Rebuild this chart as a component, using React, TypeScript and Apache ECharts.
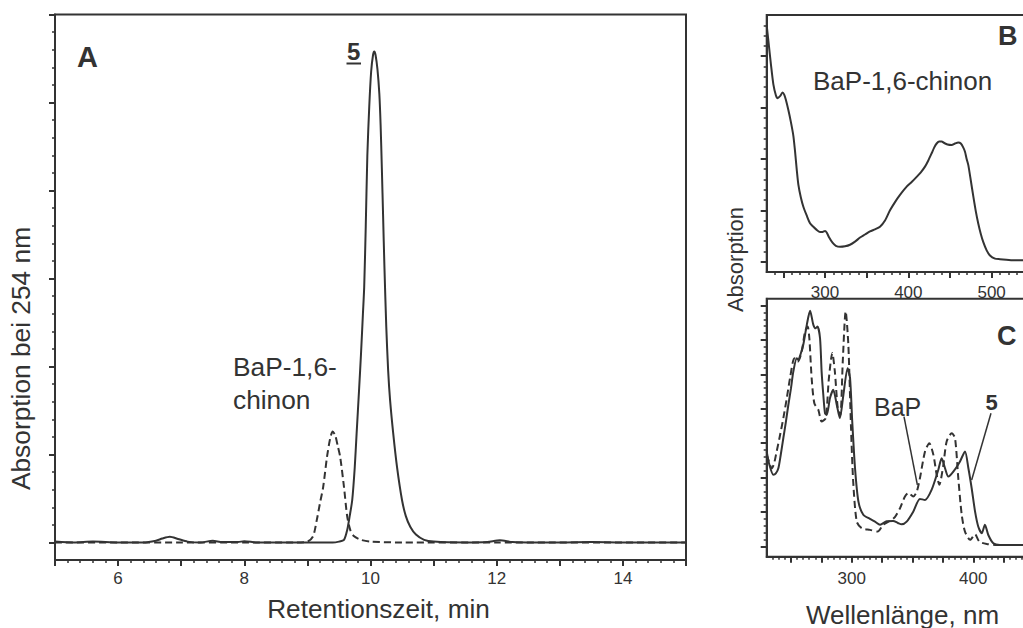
import React, { useEffect, useRef } from "react";
import * as echarts from "echarts";

// ---------- Panel A: HPLC chromatogram (retention time, min ; absorbance at 254 nm) ----------
const chromProduct5: [number, number][] = [
  [5.0, 0.01], [5.3, 0.0], [5.6, 0.01], [6.0, 0.0], [6.4, 0.0], [6.6, 0.02], [6.7, 0.045], [6.82, 0.065],
  [6.95, 0.04], [7.1, 0.01], [7.3, 0.0], [7.5, 0.02], [7.65, 0.005], [7.9, 0.005], [8.0, 0.015], [8.2, 0.0],
  [8.6, 0.0], [9.0, 0.0], [9.4, 0.0], [9.5, 0.01], [9.58, 0.03], [9.63, 0.14], [9.67, 0.3], [9.71, 0.48],
  [9.75, 0.85], [9.78, 1.24], [9.82, 1.75], [9.85, 2.15], [9.88, 2.6], [9.9, 2.9], [9.925, 3.6], [9.95, 4.4],
  [9.98, 4.95], [10.01, 5.35], [10.04, 5.54], [10.06, 5.58], [10.08, 5.54], [10.11, 5.38], [10.14, 5.1],
  [10.16, 4.75], [10.18, 4.25], [10.2, 3.7], [10.22, 3.15], [10.25, 2.45], [10.28, 1.95], [10.31, 1.62],
  [10.36, 1.24], [10.42, 0.86], [10.5, 0.48], [10.56, 0.3], [10.63, 0.18], [10.72, 0.09], [10.85, 0.03],
  [11.0, 0.01], [11.5, 0.0], [11.85, 0.005], [12.05, 0.025], [12.25, 0.005], [12.6, 0.0], [13.0, 0.0],
  [13.5, 0.005], [14.0, 0.0], [14.5, 0.0], [15.0, 0.0],
];
const chromChinon: [number, number][] = [
  [5.0, 0.0], [6.0, 0.0], [7.0, 0.0], [8.0, 0.0], [8.8, 0.0], [9.0, 0.01], [9.09, 0.07], [9.15, 0.26],
  [9.2, 0.45], [9.25, 0.63], [9.31, 0.97], [9.36, 1.18], [9.4, 1.26], [9.44, 1.22], [9.48, 1.1], [9.52, 0.97],
  [9.58, 0.63], [9.63, 0.3], [9.68, 0.14], [9.74, 0.07], [9.85, 0.03], [10.0, 0.01], [10.5, 0.0], [12.0, 0.0],
  [15.0, 0.0],
];
const aXMajorTicks = [5, 6, 7, 8, 9, 10, 11, 12, 13, 14, 15];
const aXLabels = [6, 8, 10, 12, 14];
const aYMajorTicks = [0, 1, 2, 3, 4, 5, 6];

// ---------- Panel B: UV spectrum of BaP-1,6-chinon (nm ; absorbance) ----------
const spectrumChinon: [number, number][] = [
  [230, 4.6], [232, 4.3], [235, 3.85], [238, 3.45], [241, 3.24], [243, 3.18], [246, 3.22], [249, 3.29],
  [251, 3.25], [253, 3.15], [256, 2.95], [259, 2.72], [262, 2.45], [264, 2.15], [266, 1.8], [268, 1.5],
  [271, 1.25], [274, 1.07], [278, 0.9], [282, 0.75], [286, 0.68], [290, 0.62], [294, 0.58], [297, 0.58],
  [300, 0.6], [302, 0.57], [305, 0.47], [309, 0.37], [313, 0.31], [318, 0.29], [324, 0.3], [330, 0.33],
  [336, 0.39], [342, 0.47], [348, 0.53], [354, 0.59], [360, 0.63], [366, 0.68], [372, 0.8], [378, 1.0],
  [384, 1.16], [390, 1.3], [398, 1.46], [404, 1.55], [410, 1.65], [415, 1.74], [420, 1.85], [424, 1.97],
  [428, 2.11], [431, 2.22], [434, 2.3], [437, 2.34], [440, 2.34], [443, 2.31], [447, 2.28], [452, 2.27],
  [456, 2.3], [460, 2.32], [463, 2.3], [466, 2.22], [468, 2.14], [470, 2.0], [472, 1.88], [475, 1.58],
  [478, 1.27], [481, 0.98], [484, 0.74], [487, 0.54], [490, 0.38], [494, 0.22], [498, 0.12], [504, 0.06],
  [510, 0.05], [525, 0.03], [550, 0.03],
];
const bXMajorTicks = [250, 300, 350, 400, 450, 500, 550];
const bXLabels = [300, 400, 500];
const bYMajorTicks = [0, 1, 2, 3, 4];

// ---------- Panel C: UV spectra of product 5 (solid) and BaP (dashed) ----------
const spectrumProduct5: [number, number][] = [
  [230, 2.76], [232, 2.4], [235.5, 2.08], [237.5, 2.12], [239.6, 2.27], [241.5, 2.65], [243.7, 3.15],
  [245.7, 3.6], [247.8, 4.11], [250, 4.6], [251.9, 5.08], [254.7, 5.47], [256, 5.42], [258, 5.6],
  [260.1, 5.86], [263, 6.44], [265.7, 6.85], [268.4, 6.44], [270.3, 6.34], [271.8, 6.39], [273.9, 6.05],
  [275.2, 5.08], [276.6, 4.4], [278, 3.87], [279.4, 3.82], [282.1, 4.31], [284.8, 4.55], [287.7, 4.11],
  [290.2, 3.73], [293.1, 4.4], [296.6, 5.18], [298.6, 4.89], [300.4, 3.63], [302.7, 2.27], [305.5, 1.3],
  [309.5, 0.92], [315, 0.8], [319.1, 0.72], [323.3, 0.63], [328.8, 0.73], [334.1, 0.74], [338, 0.68],
  [341.1, 0.64], [345.2, 0.72], [350.6, 1.01], [356.1, 1.38], [360.3, 1.35], [365.7, 1.64], [371.2, 2.22],
  [374, 2.56], [376.8, 2.27], [379.5, 2.03], [383.6, 2.17], [389.1, 2.47], [393.2, 2.76], [396, 2.27],
  [398.7, 1.69], [401.5, 1.01], [404.1, 0.58], [407, 0.38], [409.6, 0.63], [412.4, 0.33], [416.5, 0.09],
  [421.9, 0.04], [450, 0.04],
];
const spectrumBaP: [number, number][] = [
  [230, 2.66], [232, 2.45], [234.1, 2.27], [236, 2.4], [238.2, 2.76], [240.8, 3.2], [243.7, 3.73],
  [246.5, 4.3], [249.2, 4.89], [252.8, 5.47], [255.5, 5.37], [258.8, 5.66], [261.5, 6.24], [263.7, 6.39],
  [265.1, 6.05], [267, 4.89], [269.2, 4.16], [272.5, 3.97], [275.2, 3.63], [278.6, 3.73], [281.2, 4.89],
  [284, 5.62], [286.1, 5.08], [288.5, 4.02], [290.6, 3.82], [292.6, 5.37], [295, 6.83], [297.2, 5.86],
  [299.4, 3.44], [301.2, 1.88], [304.1, 0.72], [308.2, 0.53], [315, 0.48], [321.3, 0.43], [325.9, 0.63],
  [331.5, 0.74], [335.5, 0.85], [339.7, 1.11], [343.8, 1.45], [346.6, 1.55], [350.6, 1.45], [353.5, 1.59],
  [356.1, 1.98], [360.3, 2.76], [363.8, 3.0], [367.2, 2.66], [369.9, 2.08], [372.1, 1.79], [375.4, 2.37],
  [378.1, 3.05], [382.3, 3.29], [385, 3.15], [387.7, 1.98], [390.5, 0.92], [393.2, 0.43], [397.4, 0.19],
  [401.5, 0.35], [405, 0.14], [411.1, 0.07], [419.3, 0.04], [450, 0.04],
];
const leaderBaP: [number, number][] = [[343.0, 3.77], [354.0, 1.79]];
const leaderProduct5: [number, number][] = [[414.6, 3.87], [398.7, 1.93]];
const cXMajorTicks = [250, 275, 300, 325, 350, 375, 400, 425, 450];
const cXLabels = [300, 400];
const cYMajorTicks = [0, 1, 2, 3, 4, 5, 6, 7];

const INK = "#333333";
const FONT = '"Liberation Sans", Arial, Helvetica, sans-serif';

function steps(from: number, to: number, step: number, skip: number[]): number[] {
  const out: number[] = [];
  const n = Math.round((to - from) / step);
  for (let i = 0; i <= n; i++) {
    const v = +(from + i * step).toFixed(4);
    if (!skip.some((s) => Math.abs(s - v) < 1e-6)) out.push(v);
  }
  return out;
}

function axisPair(
  kind: "x" | "y",
  gridIndex: number,
  min: number,
  max: number,
  majors: number[],
  minors: number[],
  labels: number[],
  margin: number
) {
  const major: any = {
    type: "value",
    gridIndex,
    min,
    max,
    position: kind === "x" ? "bottom" : "left",
    axisLine: { show: true, onZero: false, lineStyle: { color: INK, width: 2 } },
    axisTick: { show: true, inside: false, length: 6, lineStyle: { color: INK, width: 2 }, customValues: majors },
    axisLabel: {
      show: labels.length > 0,
      customValues: labels,
      margin,
      color: INK,
      fontSize: 17,
      fontFamily: FONT,
    },
    splitLine: { show: false },
  };
  const minor: any = {
    type: "value",
    gridIndex,
    min,
    max,
    position: kind === "x" ? "bottom" : "left",
    axisLine: { show: false, onZero: false },
    axisTick: { show: true, inside: false, length: 3, lineStyle: { color: INK, width: 1.5 }, customValues: minors },
    axisLabel: { show: false },
    splitLine: { show: false },
  };
  return [major, minor];
}

function lineSeries(data: [number, number][], axis: number, dashed: boolean, width = 2, smooth: number | boolean = 0.25) {
  return {
    type: "line",
    xAxisIndex: axis,
    yAxisIndex: axis,
    data,
    showSymbol: false,
    symbol: "none",
    smooth,
    silent: true,
    lineStyle: { color: INK, width, type: dashed ? [7, 4] : "solid" },
    z: 3,
  };
}

function txt(text: string, x: number, y: number, size: number, opts: any = {}) {
  return {
    type: "text",
    x,
    y,
    rotation: opts.rotation || 0,
    silent: true,
    z: 10,
    style: {
      text,
      fill: INK,
      fontSize: size,
      fontFamily: FONT,
      fontWeight: opts.bold ? "bold" : "normal",
      align: opts.align || "left",
      verticalAlign: "middle",
      textAlign: opts.align || "left",
      textVerticalAlign: "middle",
    },
  };
}

export default function App() {
  const ref = useRef<HTMLDivElement>(null);

  useEffect(() => {
    if (!ref.current) return;
    const chart = echarts.init(ref.current, undefined, { renderer: "svg" });

    const gridBase = { show: true, borderColor: INK, borderWidth: 2, backgroundColor: "transparent", containLabel: false, outerBoundsMode: "none" };

    const [axm, axn] = axisPair("x", 0, 5, 15, aXMajorTicks, steps(5, 15, 0.2, aXMajorTicks), aXLabels, 9.5);
    const [aym, ayn] = axisPair("y", 0, -0.2, 6, aYMajorTicks, steps(0.2, 5.8, 0.2, aYMajorTicks), [], 8);
    const [bxm, bxn] = axisPair("x", 1, 230, 550, bXMajorTicks, steps(240, 550, 10, bXMajorTicks), bXLabels, 12);
    const [bym, byn] = axisPair("y", 1, -0.2, 4.8, bYMajorTicks, steps(0.2, 4.6, 0.2, bYMajorTicks), [], 8);
    const [cxm, cxn] = axisPair("x", 2, 230, 450, cXMajorTicks, steps(235, 450, 5, cXMajorTicks), cXLabels, 13);
    const [cym, cyn] = axisPair("y", 2, -0.3, 7.2, cYMajorTicks, steps(0.2, 7.0, 0.2, cYMajorTicks), [], 8);

    chart.setOption({
      animation: false,
      backgroundColor: "#ffffff",
      grid: [
        { ...gridBase, left: 55, top: 14.5, width: 631, height: 545.6 },
        { ...gridBase, left: 766.7, top: 15, width: 266.6, height: 257 },
        { ...gridBase, left: 766.7, top: 298.7, width: 267.3, height: 258 },
      ],
      xAxis: [axm, axn, bxm, bxn, cxm, cxn],
      yAxis: [aym, ayn, bym, byn, cym, cyn],
      series: [
        lineSeries(chromChinon, 0, true),
        lineSeries(chromProduct5, 0, false),
        lineSeries(spectrumChinon, 2, false),
        lineSeries(spectrumBaP, 4, true),
        lineSeries(spectrumProduct5, 4, false),
        lineSeries(leaderBaP, 4, false, 1.5, false),
        lineSeries(leaderProduct5, 4, false, 1.5, false),
      ],
      graphic: [
        txt("Absorption bei 254 nm", 21, 358.5, 26.3, { align: "center", rotation: Math.PI / 2 }),
        txt("Retentionszeit, min", 378.5, 608.5, 26.2, { align: "center" }),
        txt("A", 77, 57.3, 29, { bold: true }),
        txt("5", 353.7, 51.3, 24, { bold: true, align: "center" }),
        { type: "line", silent: true, z: 10, shape: { x1: 346.5, y1: 63.5, x2: 361, y2: 63.5 }, style: { stroke: INK, lineWidth: 2 } },
        txt("BaP-1,6-", 233, 367, 26.3),
        txt("chinon", 233, 399.5, 26.3),
        txt("Absorption", 735, 259.5, 22, { align: "center", rotation: Math.PI / 2 }),
        txt("Wellenlänge, nm", 902.5, 614.5, 26, { align: "center" }),
        txt("B", 998, 36.3, 27, { bold: true }),
        txt("BaP-1,6-chinon", 813, 80.7, 26),
        txt("C", 997, 336.3, 27, { bold: true }),
        txt("BaP", 874, 407.3, 25),
        txt("5", 991.5, 402.6, 22, { bold: true, align: "center" }),
      ],
    });

    return () => chart.dispose();
  }, []);

  return (
    <div
      ref={ref}
      style={{ position: "absolute", left: 0, top: 0, width: 1023, height: 628, background: "#fff" }}
    />
  );
}
